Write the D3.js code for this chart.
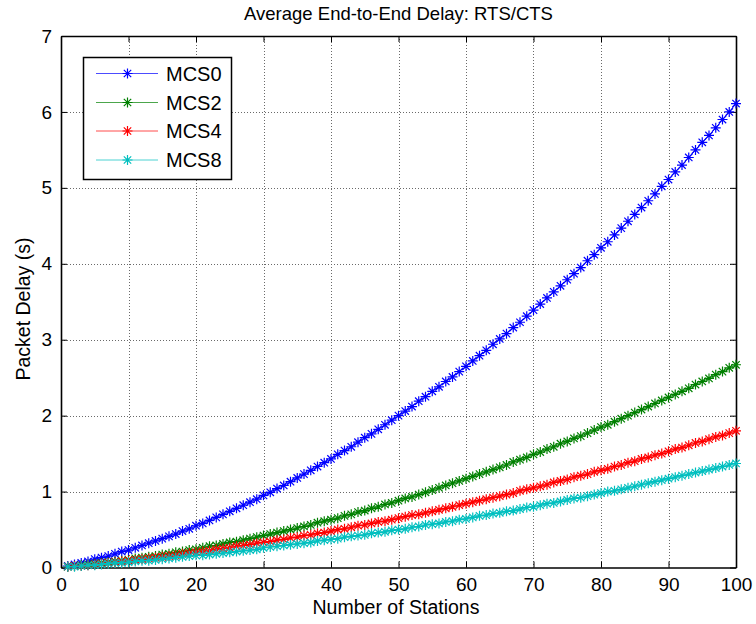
<!DOCTYPE html>
<html>
<head>
<meta charset="utf-8">
<script src="https://cdnjs.cloudflare.com/ajax/libs/d3/7.8.5/d3.min.js"></script>
<style>
  html, body { margin: 0; padding: 0; background: #ffffff; }
  svg { display: block; }
  text { font-family: Arial, "Liberation Sans", sans-serif; fill: #000; }
</style>
</head>
<body>
<svg id="chart" width="756" height="624"></svg>
<script>
// Number of stations on the x axis (1..100)
const stations = d3.range(1, 101);

// Average end-to-end delay (s) per modulation/coding scheme
const mcs0 = [0.02,0.04,0.06,0.08,0.11,0.13,0.15,0.18,0.21,0.23,
  0.26,0.29,0.32,0.35,0.38,0.41,0.44,0.48,0.51,0.55,
  0.58,0.62,0.66,0.70,0.74,0.78,0.82,0.86,0.90,0.95,
  0.99,1.04,1.08,1.13,1.18,1.23,1.28,1.33,1.38,1.43,
  1.49,1.54,1.59,1.65,1.71,1.76,1.82,1.88,1.94,2.00,
  2.06,2.12,2.19,2.25,2.32,2.38,2.45,2.51,2.58,2.65,
  2.72,2.79,2.86,2.94,3.01,3.08,3.16,3.23,3.31,3.39,
  3.47,3.55,3.63,3.71,3.79,3.87,3.95,4.04,4.12,4.21,
  4.29,4.38,4.47,4.56,4.65,4.74,4.83,4.92,5.02,5.11,
  5.21,5.30,5.40,5.50,5.60,5.69,5.79,5.90,6.00,6.11];

const mcs2 = [0.01,0.02,0.03,0.04,0.05,0.06,0.07,0.08,0.09,0.10,
  0.12,0.13,0.14,0.15,0.17,0.18,0.20,0.21,0.23,0.24,
  0.26,0.28,0.29,0.31,0.33,0.34,0.36,0.38,0.40,0.42,
  0.44,0.46,0.48,0.50,0.52,0.54,0.56,0.59,0.61,0.63,
  0.65,0.68,0.70,0.73,0.75,0.78,0.80,0.83,0.85,0.88,
  0.91,0.93,0.96,0.99,1.02,1.05,1.08,1.11,1.14,1.17,
  1.20,1.23,1.26,1.29,1.32,1.35,1.39,1.42,1.45,1.49,
  1.52,1.56,1.59,1.63,1.66,1.70,1.73,1.77,1.81,1.85,
  1.88,1.92,1.96,2.00,2.04,2.08,2.12,2.16,2.20,2.24,
  2.28,2.32,2.36,2.41,2.45,2.49,2.54,2.58,2.63,2.67];

const mcs4 = [0.01,0.02,0.02,0.03,0.04,0.05,0.06,0.07,0.08,0.09,
  0.10,0.11,0.12,0.13,0.14,0.15,0.16,0.18,0.19,0.20,
  0.21,0.22,0.24,0.25,0.26,0.28,0.29,0.30,0.32,0.33,
  0.34,0.36,0.37,0.39,0.40,0.42,0.43,0.45,0.46,0.48,
  0.50,0.51,0.53,0.55,0.56,0.58,0.60,0.61,0.63,0.65,
  0.67,0.69,0.70,0.72,0.74,0.76,0.78,0.80,0.82,0.84,
  0.86,0.88,0.90,0.92,0.94,0.96,0.98,1.01,1.03,1.05,
  1.07,1.09,1.12,1.14,1.16,1.19,1.21,1.23,1.26,1.28,
  1.30,1.33,1.35,1.38,1.40,1.43,1.45,1.48,1.50,1.53,
  1.56,1.58,1.61,1.64,1.66,1.69,1.72,1.74,1.77,1.80];

const mcs8 = [0.01,0.01,0.02,0.03,0.03,0.04,0.05,0.06,0.06,0.07,
  0.08,0.09,0.09,0.10,0.11,0.12,0.13,0.14,0.15,0.16,
  0.16,0.17,0.18,0.19,0.20,0.21,0.22,0.23,0.24,0.26,
  0.27,0.28,0.29,0.30,0.31,0.32,0.33,0.35,0.36,0.37,
  0.38,0.40,0.41,0.42,0.43,0.45,0.46,0.47,0.49,0.50,
  0.51,0.53,0.54,0.56,0.57,0.58,0.60,0.61,0.63,0.64,
  0.66,0.68,0.69,0.71,0.72,0.74,0.75,0.77,0.79,0.80,
  0.82,0.84,0.85,0.87,0.89,0.91,0.92,0.94,0.96,0.98,
  1.00,1.01,1.03,1.05,1.07,1.09,1.11,1.13,1.15,1.17,
  1.19,1.21,1.23,1.25,1.27,1.29,1.31,1.33,1.35,1.37];

const seriesNames = ["MCS0", "MCS2", "MCS4", "MCS8"];
const seriesValues = [mcs0, mcs2, mcs4, mcs8];
const seriesColors = ["#0000ff", "#008000", "#ff0000", "#00bfbf"];

const xTicks = [0, 10, 20, 30, 40, 50, 60, 70, 80, 90, 100];
const yTicks = [0, 1, 2, 3, 4, 5, 6, 7];

const titleText = "Average End-to-End Delay: RTS/CTS";
const xLabelText = "Number of Stations";
const yLabelText = "Packet Delay (s)";

// Plot frame
const plotL = 61, plotR = 736, plotT = 36, plotB = 567.5;

const svg = d3.select("#chart");

const x = d3.scaleLinear().domain([0, 100]).range([plotL, plotR]);
const y = d3.scaleLinear().domain([0, 7]).range([plotB, plotT]);

// Dotted grid
const grid = svg.append("g").attr("stroke", "#6a6a6a").attr("stroke-width", 1)
  .attr("stroke-dasharray", "1,2");
grid.selectAll("line.gx").data(xTicks.slice(1, -1)).join("line")
  .attr("x1", d => Math.round(x(d)) + 0.5).attr("x2", d => Math.round(x(d)) + 0.5)
  .attr("y1", plotT).attr("y2", plotB);
grid.selectAll("line.gy").data(yTicks.slice(1, -1)).join("line")
  .attr("x1", plotL).attr("x2", plotR)
  .attr("y1", d => Math.round(y(d)) + 0.5).attr("y2", d => Math.round(y(d)) + 0.5);

// Axes with inward ticks on all four sides
const tickLen = 6;
const fmt = d3.format("d");
const axBottom = svg.append("g").attr("transform", `translate(0,${plotB})`)
  .call(d3.axisBottom(x).tickValues(xTicks).tickFormat(fmt).tickSizeInner(-tickLen).tickSizeOuter(0).tickPadding(10));
const axTop = svg.append("g").attr("transform", `translate(0,${plotT})`)
  .call(d3.axisTop(x).tickValues(xTicks).tickFormat("").tickSizeInner(-tickLen).tickSizeOuter(0));
const axLeft = svg.append("g").attr("transform", `translate(${plotL},0)`)
  .call(d3.axisLeft(y).tickValues(yTicks).tickFormat(fmt).tickSizeInner(-tickLen).tickSizeOuter(0).tickPadding(9));
const axRight = svg.append("g").attr("transform", `translate(${plotR},0)`)
  .call(d3.axisRight(y).tickValues(yTicks).tickFormat("").tickSizeInner(-tickLen).tickSizeOuter(0));

[axBottom, axTop, axLeft, axRight].forEach(g => {
  g.select(".domain").attr("stroke", "#000").attr("stroke-width", 1.6);
  g.selectAll(".tick line").attr("stroke", "#000").attr("stroke-width", 1);
  g.selectAll(".tick text").attr("font-size", 19).attr("fill", "#000")
    .attr("font-family", "Arial, 'Liberation Sans', sans-serif");
});

// Asterisk marker path centred on (0,0)
const r = 5, rd = 3.7;
const starPath = `M${-r},0L${r},0M0,${-r}L0,${r}M${-rd},${-rd}L${rd},${rd}M${-rd},${rd}L${rd},${-rd}`;

const line = d3.line().x(d => x(d[0])).y(d => y(d[1]));

const plot = svg.append("g");
seriesValues.forEach((vals, i) => {
  const pts = stations.map((s, k) => [s, vals[k]]);
  const g = plot.append("g");
  g.append("path").datum(pts).attr("d", line)
    .attr("fill", "none").attr("stroke", seriesColors[i]).attr("stroke-width", 1);
  g.selectAll("path.m").data(pts).join("path").attr("class", "m")
    .attr("transform", d => `translate(${x(d[0])},${y(d[1])})`)
    .attr("d", starPath).attr("fill", "none")
    .attr("stroke", seriesColors[i]).attr("stroke-width", 1.2);
});

// Legend
const lg = svg.append("g");
const lgX = 83.5, lgY = 57.5, lgW = 148, lgH = 122;
lg.append("rect").attr("x", lgX).attr("y", lgY).attr("width", lgW).attr("height", lgH)
  .attr("fill", "#fff").attr("stroke", "#000").attr("stroke-width", 1.5);
const rowY = [73.5, 102.5, 131, 160];
seriesNames.forEach((name, i) => {
  const ry = rowY[i];
  lg.append("line").attr("x1", 96).attr("x2", 158).attr("y1", ry).attr("y2", ry)
    .attr("stroke", seriesColors[i]).attr("stroke-width", 1).attr("stroke-opacity", 0.7);
  lg.append("path").attr("transform", `translate(127.5,${ry})`).attr("d", starPath)
    .attr("fill", "none").attr("stroke", seriesColors[i]).attr("stroke-width", 1.2);
  lg.append("text").attr("x", 166).attr("y", ry).attr("dy", "0.36em")
    .attr("font-size", 20).text(name);
});

// Title and axis labels
svg.append("text").attr("x", (plotL + plotR) / 2).attr("y", 20).attr("text-anchor", "middle")
  .attr("font-size", 18.5).text(titleText);
svg.append("text").attr("x", 396).attr("y", 614).attr("text-anchor", "middle")
  .attr("font-size", 19.5).text(xLabelText);
svg.append("text").attr("transform", `translate(30,${309}) rotate(-90)`)
  .attr("text-anchor", "middle").attr("font-size", 19.5).text(yLabelText);
</script>
</body>
</html>
